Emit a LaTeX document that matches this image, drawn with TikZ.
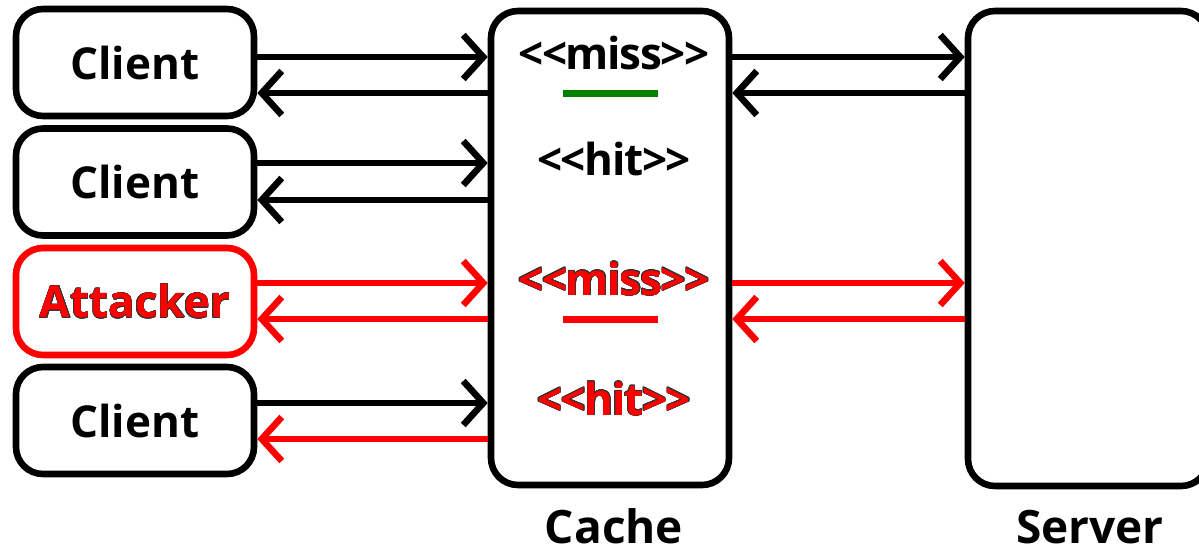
\documentclass[tikz,border=0pt]{standalone}
\usepackage{fontspec}
\setmainfont{Open Sans}
\newfontfamily\tightfont{Open Sans}[LetterSpace=-3]
\usepackage{contour}
\contourlength{0.2pt}
\usetikzlibrary{arrows.meta}
\definecolor{myred}{RGB}{255,0,0}
\definecolor{mygreen}{RGB}{0,128,0}
\begin{document}
\begin{tikzpicture}[x=0.5pt,y=-0.5pt,
  boxshape/.style={draw, line width=3.3pt, rounded corners=13.5pt, inner sep=0pt, fill=white},
  clientbox/.style={boxshape, minimum width=119pt, minimum height=53.5pt, font=\fontsize{22}{26}\selectfont\bfseries},
  conn/.style={line width=3.3pt, -{Straight Barb[length=10pt,width=22pt]}},
  redconn/.style={conn, draw=myred},
  msg/.style={font=\tightfont\fontsize{22}{26}\selectfont\bfseries, anchor=base, inner sep=0pt},
  lbl/.style={font=\fontsize{23}{27}\selectfont\bfseries, anchor=base, inner sep=0pt},
  uline/.style={line width=3.5pt}]
\useasboundingbox (0,0) rectangle (1199,552);
% clients
\node[clientbox] (c1) at (135,62.5) {Client};
\node[clientbox] (c2) at (135,182) {Client};
\node[clientbox, draw=myred, text=myred] (att) at (135,301.5) {\contour{black!80}{Attacker}};
\node[clientbox] (c4) at (135,420.5) {Client};
% cache and server
\node[boxshape, minimum width=119pt, minimum height=237pt] (cache) at (610,248) {};
\node[boxshape, minimum width=120pt, minimum height=237.5pt] (server) at (1088,248.5) {};
% labels inside cache
\node[msg] (m1) at (614,69.5) {<<miss>>};
\node[msg] (h1) at (614,175.5) {<<hit>>};
\node[msg, text=myred] (m2) at (614,295) {\contour{black!80}{<<miss>>}};
\node[msg, text=myred] (h2) at (614,415) {\contour{black!80}{<<hit>>}};
\draw[uline, draw=mygreen] (563,93) -- (658,93);
\draw[uline, draw=myred] (563,319) -- (658,319);
% bottom labels
\node[lbl] (cl) at (614,543) {Cache};
\node[lbl] (sl) at (1090,543) {Server};
% row coordinates
\coordinate (f1) at (0,57);  \coordinate (b1) at (0,93);
\coordinate (f2) at (0,163); \coordinate (b2) at (0,200);
\coordinate (f3) at (0,283); \coordinate (b3) at (0,319);
\coordinate (f4) at (0,403); \coordinate (b4) at (0,439);
% client <-> cache
\draw[conn] (c1.east |- f1) -- (cache.west |- f1);
\draw[conn] (cache.west |- b1) -- (c1.east |- b1);
\draw[conn] (c2.east |- f2) -- (cache.west |- f2);
\draw[conn] (cache.west |- b2) -- (c2.east |- b2);
\draw[redconn] (att.east |- f3) -- (cache.west |- f3);
\draw[redconn] (cache.west |- b3) -- (att.east |- b3);
\draw[conn] (c4.east |- f4) -- (cache.west |- f4);
\draw[redconn] (cache.west |- b4) -- (c4.east |- b4);
% cache <-> server
\draw[conn] (cache.east |- f1) -- (server.west |- f1);
\draw[conn] (server.west |- b1) -- (cache.east |- b1);
\draw[redconn] (cache.east |- f3) -- (server.west |- f3);
\draw[redconn] (server.west |- b3) -- (cache.east |- b3);
\end{tikzpicture}
\end{document}
